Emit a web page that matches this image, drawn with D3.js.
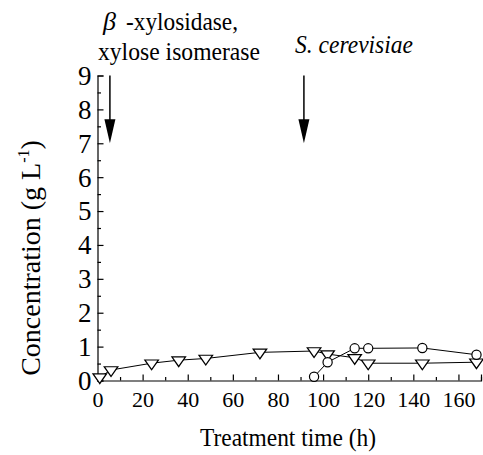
<!DOCTYPE html>
<html>
<head>
<meta charset="utf-8">
<script src="https://cdn.jsdelivr.net/npm/d3@7"></script>
<style>
body { margin: 0; background: #fff; }
</style>
</head>
<body>
<svg id="chart" width="483" height="455" font-family="Liberation Serif"></svg>
<script>
// time (h) and concentration (g/L)
var triTime = [1, 6, 24, 36, 48, 72, 96, 102, 114, 120, 144, 168];
var triConc = [0.1, 0.31, 0.51, 0.6, 0.65, 0.83, 0.87, 0.78, 0.67, 0.51, 0.51, 0.54];
var circTime = [96, 102, 114, 120, 144, 168];
var circConc = [0.11, 0.54, 0.95, 0.95, 0.96, 0.76];

var xTicks = [0, 20, 40, 60, 80, 100, 120, 140, 160];
var yTicks = [0, 1, 2, 3, 4, 5, 6, 7, 8, 9];

var arrowTimes = [5.5, 91.5];
var arrowFrom = 9, arrowTo = 7;

var svg = d3.select("#chart");

var x = d3.scaleLinear().domain([0, 170]).range([97.5, 481]);
var y = d3.scaleLinear().domain([0, 9]).range([380.5, 75.5]);

// axes, ticks pointing inward
var xAxis = d3.axisBottom(x).tickValues(xTicks).tickSize(-6).tickPadding(10).tickFormat(d3.format("d"));
var xMinor = d3.axisBottom(x).tickValues(d3.range(10, 171, 20)).tickSize(-3.5).tickFormat("");
var yAxis = d3.axisLeft(y).tickValues(yTicks).tickSize(-6).tickPadding(6).tickFormat(d3.format("d"));
var yMinor = d3.axisLeft(y).tickValues(d3.range(0.5, 9, 1)).tickSize(-3.5).tickFormat("");

function styleAxis(g) {
	g.attr("font-family", "Liberation Serif");
	g.selectAll("path").attr("stroke", "#000").attr("stroke-width", 1.2);
	g.selectAll("line").attr("stroke", "#000").attr("stroke-width", 1.2);
}

var gx = svg.append("g").attr("transform", "translate(0," + y(0) + ")").call(xAxis).call(styleAxis);
gx.attr("font-size", 22);
gx.selectAll("text").attr("fill", "#000").attr("dy", "0.75em");
svg.append("g").attr("transform", "translate(0," + y(0) + ")").call(xMinor).call(styleAxis)
	.select("path").remove();

var gy = svg.append("g").attr("transform", "translate(" + x(0) + ",0)").call(yAxis).call(styleAxis);
gy.attr("font-size", 27);
gy.selectAll("text").attr("fill", "#000").attr("dy", "0.33em");
svg.append("g").attr("transform", "translate(" + x(0) + ",0)").call(yMinor).call(styleAxis)
	.select("path").remove();

// series lines
var line = d3.line().x(function(d) { return x(d[0]); }).y(function(d) { return y(d[1]); });
var triData = d3.zip(triTime, triConc);
var circData = d3.zip(circTime, circConc);

svg.append("path").datum(triData).attr("d", line)
	.attr("fill", "none").attr("stroke", "#000").attr("stroke-width", 1);
svg.append("path").datum(circData).attr("d", line)
	.attr("fill", "none").attr("stroke", "#000").attr("stroke-width", 1);

// markers
var tri = d3.symbol().type(d3.symbolTriangle).size(60);
svg.selectAll(".tri").data(triData).enter().append("path")
	.attr("class", "tri")
	.attr("d", tri)
	.attr("transform", function(d) { return "translate(" + x(d[0]) + "," + y(d[1]) + ") rotate(180) scale(1.15,0.95)"; })
	.attr("fill", "#fff").attr("stroke", "#000").attr("stroke-width", 1.2);

svg.selectAll(".circ").data(circData).enter().append("circle")
	.attr("class", "circ")
	.attr("cx", function(d) { return x(d[0]); })
	.attr("cy", function(d) { return y(d[1]); })
	.attr("r", 4.6)
	.attr("fill", "#fff").attr("stroke", "#000").attr("stroke-width", 1.2);

// arrows
svg.selectAll(".arrow").data(arrowTimes).enter().append("line")
	.attr("class", "arrow")
	.attr("x1", function(d) { return x(d); })
	.attr("x2", function(d) { return x(d); })
	.attr("y1", y(arrowFrom))
	.attr("y2", y(arrowTo) - 22)
	.attr("stroke", "#000").attr("stroke-width", 1.5);
svg.selectAll(".head").data(arrowTimes).enter().append("path")
	.attr("class", "head")
	.attr("d", function(d) {
		var cx = x(d), tip = y(arrowTo);
		return "M" + (cx - 5.5) + "," + (tip - 24) + "L" + (cx + 5.5) + "," + (tip - 24) + "L" + cx + "," + tip + "Z";
	})
	.attr("fill", "#000");

// annotations
function label(tx, ty, size, str) {
	return svg.append("text").attr("x", tx).attr("y", ty)
		.attr("font-family", "Liberation Serif").attr("font-size", size).text(str);
}
label(103, 30, 26, "\u03b2").attr("font-style", "italic");
label(126, 30, 26, "-xylosidase,")
	.attr("textLength", 112).attr("lengthAdjust", "spacingAndGlyphs");
label(98, 60, 26, "xylose isomerase")
	.attr("textLength", 162).attr("lengthAdjust", "spacingAndGlyphs");
label(295, 53, 25, "S. cerevisiae").attr("font-style", "italic")
	.attr("textLength", 118).attr("lengthAdjust", "spacingAndGlyphs");

// axis titles
label(200, 446, 26, "Treatment time (h)")
	.attr("textLength", 176).attr("lengthAdjust", "spacingAndGlyphs");

var yl = svg.append("text")
	.attr("transform", "translate(40,258) rotate(-90)")
	.attr("text-anchor", "middle")
	.attr("font-family", "Liberation Serif")
	.attr("font-size", 28);
yl.append("tspan").text("Concentration (g L");
yl.append("tspan").attr("dy", -11).attr("font-size", 16).text("-1");
yl.append("tspan").attr("dy", 11).text(")");
</script>
</body>
</html>
